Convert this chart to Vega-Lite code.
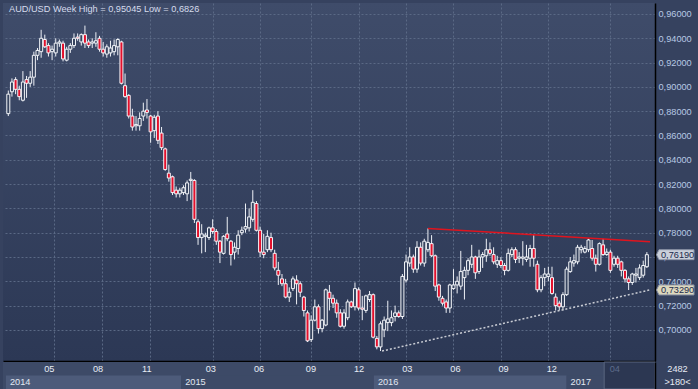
{
"$schema": "https://vega.github.io/schema/vega-lite/v6.json",
"background": "#36425f",
"padding": {"left": 3, "top": 3, "right": 6, "bottom": 0},
"spacing": 0,
"config": {"view": {"stroke": null}, "font": "Liberation Sans", "concat": {"spacing": 0}, "axis": {"labelOverlap": false}},
"datasets": {
"candles": [
{"date":"2014-02-03","o":0.878,"h":0.897,"l":0.876,"c":0.894},
{"date":"2014-02-10","o":0.896,"h":0.907,"l":0.892,"c":0.904},
{"date":"2014-02-17","o":0.906,"h":0.908,"l":0.894,"c":0.898},
{"date":"2014-02-24","o":0.898,"h":0.901,"l":0.889,"c":0.892},
{"date":"2014-03-03","o":0.889,"h":0.913,"l":0.888,"c":0.904},
{"date":"2014-03-10","o":0.906,"h":0.909,"l":0.891,"c":0.903},
{"date":"2014-03-17","o":0.903,"h":0.913,"l":0.900,"c":0.908},
{"date":"2014-03-24","o":0.908,"h":0.929,"l":0.901,"c":0.926},
{"date":"2014-03-31","o":0.926,"h":0.932,"l":0.922,"c":0.930},
{"date":"2014-04-07","o":0.929,"h":0.947,"l":0.924,"c":0.940},
{"date":"2014-04-14","o":0.939,"h":0.943,"l":0.932,"c":0.933},
{"date":"2014-04-21","o":0.934,"h":0.936,"l":0.925,"c":0.928},
{"date":"2014-04-28","o":0.929,"h":0.934,"l":0.922,"c":0.931},
{"date":"2014-05-05","o":0.928,"h":0.940,"l":0.925,"c":0.936},
{"date":"2014-05-12","o":0.936,"h":0.939,"l":0.933,"c":0.937},
{"date":"2014-05-19","o":0.936,"h":0.938,"l":0.921,"c":0.923},
{"date":"2014-05-26","o":0.922,"h":0.933,"l":0.921,"c":0.931},
{"date":"2014-06-02","o":0.931,"h":0.936,"l":0.928,"c":0.934},
{"date":"2014-06-09","o":0.934,"h":0.944,"l":0.932,"c":0.940},
{"date":"2014-06-16","o":0.941,"h":0.944,"l":0.938,"c":0.940},
{"date":"2014-06-23","o":0.937,"h":0.944,"l":0.934,"c":0.943},
{"date":"2014-06-30","o":0.943,"h":0.95045,"l":0.932,"c":0.936},
{"date":"2014-07-07","o":0.937,"h":0.939,"l":0.932,"c":0.934},
{"date":"2014-07-14","o":0.936,"h":0.940,"l":0.932,"c":0.937},
{"date":"2014-07-21","o":0.936,"h":0.945,"l":0.933,"c":0.938},
{"date":"2014-07-28","o":0.940,"h":0.942,"l":0.929,"c":0.931},
{"date":"2014-08-04","o":0.931,"h":0.937,"l":0.925,"c":0.928},
{"date":"2014-08-11","o":0.927,"h":0.935,"l":0.924,"c":0.933},
{"date":"2014-08-18","o":0.928,"h":0.938,"l":0.925,"c":0.932},
{"date":"2014-08-25","o":0.929,"h":0.939,"l":0.926,"c":0.934},
{"date":"2014-09-01","o":0.933,"h":0.940,"l":0.926,"c":0.939},
{"date":"2014-09-08","o":0.937,"h":0.938,"l":0.902,"c":0.903},
{"date":"2014-09-15","o":0.901,"h":0.911,"l":0.891,"c":0.892},
{"date":"2014-09-22","o":0.893,"h":0.894,"l":0.874,"c":0.876},
{"date":"2014-09-29","o":0.876,"h":0.882,"l":0.864,"c":0.867},
{"date":"2014-10-06","o":0.868,"h":0.876,"l":0.864,"c":0.869},
{"date":"2014-10-13","o":0.868,"h":0.879,"l":0.864,"c":0.874},
{"date":"2014-10-20","o":0.876,"h":0.887,"l":0.872,"c":0.880},
{"date":"2014-10-27","o":0.881,"h":0.890,"l":0.874,"c":0.879},
{"date":"2014-11-03","o":0.876,"h":0.877,"l":0.854,"c":0.863},
{"date":"2014-11-10","o":0.864,"h":0.877,"l":0.858,"c":0.875},
{"date":"2014-11-17","o":0.876,"h":0.880,"l":0.853,"c":0.856},
{"date":"2014-11-24","o":0.862,"h":0.867,"l":0.848,"c":0.850},
{"date":"2014-12-01","o":0.849,"h":0.850,"l":0.831,"c":0.832},
{"date":"2014-12-08","o":0.829,"h":0.836,"l":0.822,"c":0.825},
{"date":"2014-12-15","o":0.826,"h":0.827,"l":0.811,"c":0.813},
{"date":"2014-12-22","o":0.815,"h":0.818,"l":0.809,"c":0.812},
{"date":"2014-12-29","o":0.812,"h":0.817,"l":0.809,"c":0.815},
{"date":"2015-01-05","o":0.813,"h":0.819,"l":0.811,"c":0.817},
{"date":"2015-01-12","o":0.812,"h":0.823,"l":0.806,"c":0.821},
{"date":"2015-01-19","o":0.823,"h":0.830,"l":0.807,"c":0.824},
{"date":"2015-01-26","o":0.823,"h":0.824,"l":0.788,"c":0.791},
{"date":"2015-02-02","o":0.789,"h":0.791,"l":0.770,"c":0.776},
{"date":"2015-02-09","o":0.776,"h":0.787,"l":0.763,"c":0.779},
{"date":"2015-02-16","o":0.777,"h":0.780,"l":0.764,"c":0.778},
{"date":"2015-02-23","o":0.776,"h":0.785,"l":0.774,"c":0.784},
{"date":"2015-03-02","o":0.784,"h":0.791,"l":0.779,"c":0.781},
{"date":"2015-03-09","o":0.781,"h":0.783,"l":0.770,"c":0.773},
{"date":"2015-03-16","o":0.773,"h":0.774,"l":0.755,"c":0.764},
{"date":"2015-03-23","o":0.763,"h":0.778,"l":0.762,"c":0.777},
{"date":"2015-03-30","o":0.779,"h":0.793,"l":0.773,"c":0.775},
{"date":"2015-04-06","o":0.773,"h":0.774,"l":0.753,"c":0.762},
{"date":"2015-04-13","o":0.764,"h":0.772,"l":0.758,"c":0.768},
{"date":"2015-04-20","o":0.767,"h":0.782,"l":0.762,"c":0.778},
{"date":"2015-04-27","o":0.780,"h":0.785,"l":0.778,"c":0.782},
{"date":"2015-05-04","o":0.783,"h":0.804,"l":0.780,"c":0.785},
{"date":"2015-05-11","o":0.784,"h":0.800,"l":0.781,"c":0.793},
{"date":"2015-05-18","o":0.791,"h":0.815,"l":0.789,"c":0.805},
{"date":"2015-05-25","o":0.804,"h":0.806,"l":0.781,"c":0.782},
{"date":"2015-06-01","o":0.782,"h":0.785,"l":0.760,"c":0.764},
{"date":"2015-06-08","o":0.764,"h":0.779,"l":0.759,"c":0.762},
{"date":"2015-06-15","o":0.766,"h":0.782,"l":0.764,"c":0.777},
{"date":"2015-06-22","o":0.776,"h":0.780,"l":0.764,"c":0.766},
{"date":"2015-06-29","o":0.763,"h":0.766,"l":0.749,"c":0.751},
{"date":"2015-07-06","o":0.749,"h":0.756,"l":0.737,"c":0.745},
{"date":"2015-07-13","o":0.742,"h":0.746,"l":0.736,"c":0.738},
{"date":"2015-07-20","o":0.738,"h":0.742,"l":0.726,"c":0.727},
{"date":"2015-07-27","o":0.727,"h":0.735,"l":0.723,"c":0.731},
{"date":"2015-08-03","o":0.734,"h":0.744,"l":0.732,"c":0.742},
{"date":"2015-08-10","o":0.741,"h":0.745,"l":0.721,"c":0.738},
{"date":"2015-08-17","o":0.738,"h":0.740,"l":0.727,"c":0.731},
{"date":"2015-08-24","o":0.727,"h":0.728,"l":0.711,"c":0.716},
{"date":"2015-08-31","o":0.714,"h":0.716,"l":0.690,"c":0.691},
{"date":"2015-09-07","o":0.692,"h":0.712,"l":0.690,"c":0.708},
{"date":"2015-09-14","o":0.708,"h":0.725,"l":0.707,"c":0.719},
{"date":"2015-09-21","o":0.719,"h":0.721,"l":0.697,"c":0.701},
{"date":"2015-09-28","o":0.701,"h":0.709,"l":0.698,"c":0.708},
{"date":"2015-10-05","o":0.704,"h":0.734,"l":0.703,"c":0.733},
{"date":"2015-10-12","o":0.731,"h":0.737,"l":0.716,"c":0.726},
{"date":"2015-10-19","o":0.726,"h":0.729,"l":0.718,"c":0.722},
{"date":"2015-10-26","o":0.722,"h":0.725,"l":0.710,"c":0.714},
{"date":"2015-11-02","o":0.714,"h":0.717,"l":0.702,"c":0.703},
{"date":"2015-11-09","o":0.703,"h":0.717,"l":0.701,"c":0.714},
{"date":"2015-11-16","o":0.710,"h":0.725,"l":0.708,"c":0.723},
{"date":"2015-11-23","o":0.723,"h":0.724,"l":0.718,"c":0.719},
{"date":"2015-11-30","o":0.719,"h":0.739,"l":0.716,"c":0.734},
{"date":"2015-12-07","o":0.733,"h":0.735,"l":0.716,"c":0.718},
{"date":"2015-12-14","o":0.718,"h":0.728,"l":0.708,"c":0.717},
{"date":"2015-12-21","o":0.716,"h":0.729,"l":0.714,"c":0.728},
{"date":"2015-12-28","o":0.725,"h":0.732,"l":0.723,"c":0.729},
{"date":"2016-01-04","o":0.729,"h":0.730,"l":0.693,"c":0.694},
{"date":"2016-01-11","o":0.693,"h":0.695,"l":0.684,"c":0.686},
{"date":"2016-01-18","o":0.686,"h":0.707,"l":0.6826,"c":0.705},
{"date":"2016-01-25","o":0.700,"h":0.711,"l":0.694,"c":0.708},
{"date":"2016-02-01","o":0.706,"h":0.724,"l":0.699,"c":0.709},
{"date":"2016-02-08","o":0.706,"h":0.716,"l":0.703,"c":0.710},
{"date":"2016-02-15","o":0.711,"h":0.720,"l":0.707,"c":0.714},
{"date":"2016-02-22","o":0.714,"h":0.716,"l":0.710,"c":0.711},
{"date":"2016-02-29","o":0.711,"h":0.746,"l":0.709,"c":0.744},
{"date":"2016-03-07","o":0.741,"h":0.762,"l":0.739,"c":0.756},
{"date":"2016-03-14","o":0.755,"h":0.768,"l":0.752,"c":0.760},
{"date":"2016-03-21","o":0.760,"h":0.762,"l":0.747,"c":0.750},
{"date":"2016-03-28","o":0.750,"h":0.773,"l":0.747,"c":0.768},
{"date":"2016-04-04","o":0.768,"h":0.772,"l":0.753,"c":0.755},
{"date":"2016-04-11","o":0.755,"h":0.775,"l":0.752,"c":0.773},
{"date":"2016-04-18","o":0.766,"h":0.7835,"l":0.764,"c":0.772},
{"date":"2016-04-25","o":0.771,"h":0.778,"l":0.760,"c":0.761},
{"date":"2016-05-02","o":0.761,"h":0.762,"l":0.732,"c":0.736},
{"date":"2016-05-09","o":0.737,"h":0.738,"l":0.724,"c":0.727},
{"date":"2016-05-16","o":0.726,"h":0.728,"l":0.720,"c":0.722},
{"date":"2016-05-23","o":0.723,"h":0.725,"l":0.714,"c":0.718},
{"date":"2016-05-30","o":0.718,"h":0.738,"l":0.714,"c":0.737},
{"date":"2016-06-06","o":0.734,"h":0.750,"l":0.733,"c":0.737},
{"date":"2016-06-13","o":0.737,"h":0.744,"l":0.730,"c":0.740},
{"date":"2016-06-20","o":0.736,"h":0.765,"l":0.733,"c":0.748},
{"date":"2016-06-27","o":0.743,"h":0.752,"l":0.725,"c":0.749},
{"date":"2016-07-04","o":0.749,"h":0.759,"l":0.745,"c":0.757},
{"date":"2016-07-11","o":0.754,"h":0.770,"l":0.751,"c":0.760},
{"date":"2016-07-18","o":0.760,"h":0.761,"l":0.742,"c":0.747},
{"date":"2016-07-25","o":0.748,"h":0.766,"l":0.746,"c":0.760},
{"date":"2016-08-01","o":0.760,"h":0.764,"l":0.751,"c":0.762},
{"date":"2016-08-08","o":0.761,"h":0.775,"l":0.756,"c":0.766},
{"date":"2016-08-15","o":0.766,"h":0.772,"l":0.761,"c":0.763},
{"date":"2016-08-22","o":0.762,"h":0.768,"l":0.754,"c":0.756},
{"date":"2016-08-29","o":0.754,"h":0.761,"l":0.751,"c":0.757},
{"date":"2016-09-05","o":0.757,"h":0.760,"l":0.751,"c":0.753},
{"date":"2016-09-12","o":0.753,"h":0.755,"l":0.745,"c":0.749},
{"date":"2016-09-19","o":0.749,"h":0.767,"l":0.748,"c":0.763},
{"date":"2016-09-26","o":0.762,"h":0.768,"l":0.760,"c":0.766},
{"date":"2016-10-03","o":0.766,"h":0.768,"l":0.755,"c":0.758},
{"date":"2016-10-10","o":0.759,"h":0.764,"l":0.755,"c":0.760},
{"date":"2016-10-17","o":0.759,"h":0.773,"l":0.753,"c":0.760},
{"date":"2016-10-24","o":0.758,"h":0.770,"l":0.756,"c":0.760},
{"date":"2016-10-31","o":0.759,"h":0.770,"l":0.752,"c":0.767},
{"date":"2016-11-07","o":0.767,"h":0.778,"l":0.752,"c":0.759},
{"date":"2016-11-14","o":0.754,"h":0.757,"l":0.731,"c":0.733},
{"date":"2016-11-21","o":0.733,"h":0.745,"l":0.731,"c":0.743},
{"date":"2016-11-28","o":0.743,"h":0.751,"l":0.736,"c":0.746},
{"date":"2016-12-05","o":0.744,"h":0.752,"l":0.740,"c":0.746},
{"date":"2016-12-12","o":0.743,"h":0.752,"l":0.729,"c":0.730},
{"date":"2016-12-19","o":0.727,"h":0.730,"l":0.716,"c":0.720},
{"date":"2016-12-26","o":0.722,"h":0.724,"l":0.716,"c":0.719},
{"date":"2017-01-02","o":0.719,"h":0.731,"l":0.716,"c":0.729},
{"date":"2017-01-09","o":0.729,"h":0.752,"l":0.728,"c":0.750},
{"date":"2017-01-16","o":0.748,"h":0.760,"l":0.747,"c":0.756},
{"date":"2017-01-23","o":0.755,"h":0.762,"l":0.752,"c":0.757},
{"date":"2017-01-30","o":0.756,"h":0.770,"l":0.754,"c":0.768},
{"date":"2017-02-06","o":0.766,"h":0.770,"l":0.763,"c":0.768},
{"date":"2017-02-13","o":0.764,"h":0.769,"l":0.763,"c":0.767},
{"date":"2017-02-20","o":0.766,"h":0.775,"l":0.764,"c":0.774},
{"date":"2017-02-27","o":0.767,"h":0.774,"l":0.757,"c":0.759},
{"date":"2017-03-06","o":0.759,"h":0.762,"l":0.748,"c":0.754},
{"date":"2017-03-13","o":0.754,"h":0.772,"l":0.753,"c":0.771},
{"date":"2017-03-20","o":0.770,"h":0.775,"l":0.761,"c":0.762},
{"date":"2017-03-27","o":0.762,"h":0.767,"l":0.761,"c":0.764},
{"date":"2017-04-03","o":0.764,"h":0.766,"l":0.747,"c":0.749},
{"date":"2017-04-10","o":0.754,"h":0.761,"l":0.752,"c":0.759},
{"date":"2017-04-17","o":0.759,"h":0.761,"l":0.751,"c":0.754},
{"date":"2017-04-24","o":0.756,"h":0.757,"l":0.744,"c":0.749},
{"date":"2017-05-01","o":0.749,"h":0.750,"l":0.739,"c":0.742},
{"date":"2017-05-08","o":0.742,"h":0.744,"l":0.7328,"c":0.739},
{"date":"2017-05-15","o":0.739,"h":0.747,"l":0.737,"c":0.746},
{"date":"2017-05-22","o":0.745,"h":0.751,"l":0.739,"c":0.746},
{"date":"2017-05-29","o":0.743,"h":0.754,"l":0.741,"c":0.751},
{"date":"2017-06-05","o":0.745,"h":0.757,"l":0.743,"c":0.753},
{"date":"2017-06-12","o":0.752,"h":0.764,"l":0.751,"c":0.7619}
],
"resistance": [{"date":"2016-04-18","v":0.7835},{"date":"2017-06-18","v":0.7726}],
"support": [{"date":"2016-01-21","v":0.6826},{"date":"2017-06-18","v":0.7329}],
"tags": [{"v":0.7619,"label":"0,76190","kind":"close"},{"v":0.7329,"label":"0,73290","kind":"trend"}],
"heading": [{"text":"AUD/USD Week High = 0,95045 Low = 0,6826"}],
"months": [
{"date":"2014-05-01","label":"05","shaded":false},
{"date":"2014-08-01","label":"08","shaded":false},
{"date":"2014-11-01","label":"11","shaded":false},
{"date":"2015-03-02","label":"03","shaded":false},
{"date":"2015-06-01","label":"06","shaded":false},
{"date":"2015-09-07","label":"09","shaded":false},
{"date":"2015-12-07","label":"12","shaded":false},
{"date":"2016-03-07","label":"03","shaded":false},
{"date":"2016-06-06","label":"06","shaded":false},
{"date":"2016-09-05","label":"09","shaded":false},
{"date":"2016-12-05","label":"12","shaded":false},
{"date":"2017-04-03","label":"04","shaded":true}
],
"years": [
{"start":"2014-02-08","end":"2015-01-05","label":"2014","alt":true},
{"start":"2015-01-05","end":"2016-01-04","label":"2015","alt":false},
{"start":"2016-01-04","end":"2017-01-02","label":"2016","alt":true},
{"start":"2017-01-02","end":"2017-03-14","label":"2017","alt":false}
],
"zone": [{"start":"2017-03-14","end":"2017-06-18"}]
},
"vconcat": [
{
"width": 652,
"height": 358,
"view": {"fill": {"gradient": "linear", "x1": 0, "y1": 0, "x2": 0, "y2": 1, "stops": [{"offset": 0, "color": "#3f4c6a"}, {"offset": 1, "color": "#2c3855"}]}},
"layer": [
{"data": {"name": "candles"}, "mark": {"type": "rule", "color": "#eef1f7", "strokeWidth": 1, "clip": true},
"encoding": {
"x": {"field": "date", "type": "temporal", "scale": {"domain": [{"year": 2014, "month": 2, "date": 2, "hours": 10}, {"year": 2017, "month": 6, "date": 18}]},
"axis": {"values": [{"year":2014,"month":5,"date":1},{"year":2014,"month":8,"date":1},{"year":2014,"month":11,"date":1},{"year":2015,"month":3,"date":2},{"year":2015,"month":6,"date":1},{"year":2015,"month":9,"date":7},{"year":2015,"month":12,"date":7},{"year":2016,"month":3,"date":7},{"year":2016,"month":6,"date":6},{"year":2016,"month":9,"date":5},{"year":2016,"month":12,"date":5},{"year":2017,"month":4,"date":3}],
"tickCount": 30, "grid": true, "gridColor": "#5a6985", "gridDash": [2, 2], "labels": false, "ticks": false, "domain": true, "domainColor": "#000000", "domainWidth": 1.5, "title": null}},
"y": {"field": "l", "type": "quantitative", "scale": {"domain": [0.6744, 0.96905], "nice": false, "zero": false},
"axis": {"orient": "right", "values": [0.70, 0.72, 0.74, 0.76, 0.78, 0.80, 0.82, 0.84, 0.86, 0.88, 0.90, 0.92, 0.94, 0.96], "tickCount": 30, "labelExpr": "replace(format(datum.value, '.5f'), '.', ',')", "ticks": false, "labelPadding": 3, "labelFontSize": 9.2, "labelFont": "Liberation Sans", "labelColor": "#b7c9e4", "labelOverlap": false, "labelBaseline": "middle", "domain": true, "domainColor": "#000000", "domainWidth": 1.5, "grid": true, "gridColor": "#5a6985", "gridDash": [2, 2], "title": null}},
"y2": {"field": "h"}
}},
{"data": {"name": "candles"}, "mark": {"type": "bar", "size": 3, "stroke": "#f2f4f8", "strokeWidth": 1, "clip": true},
"encoding": {
"x": {"field": "date", "type": "temporal"},
"y": {"field": "o", "type": "quantitative"},
"y2": {"field": "c"},
"fill": {"condition": {"test": "datum.c < datum.o", "value": "#e3102c"}, "value": "#37445f"}
}},
{"data": {"name": "resistance"}, "mark": {"type": "line", "color": "#e0141e", "strokeWidth": 1.5, "clip": true},
"encoding": {"x": {"field": "date", "type": "temporal"}, "y": {"field": "v", "type": "quantitative"}}},
{"data": {"name": "support"}, "mark": {"type": "line", "color": "#c9ccd4", "strokeWidth": 1.5, "strokeDash": [2, 2], "clip": true},
"encoding": {"x": {"field": "date", "type": "temporal"}, "y": {"field": "v", "type": "quantitative"}}},
{"data": {"name": "tags"}, "mark": {"type": "point", "shape": "M0.15,0L0.4,-0.5H3.9V0.5H0.4Z", "size": 400, "filled": true, "opacity": 1, "stroke": "#8b93a5", "strokeWidth": 1},
"encoding": {"x": {"value": "width"}, "y": {"field": "v", "type": "quantitative"},
"fill": {"condition": {"test": "datum.kind == 'trend'", "value": "#dcd8bd"}, "value": "#c9cfda"}}},
{"data": {"name": "tags"}, "mark": {"type": "text", "align": "left", "baseline": "middle", "dx": 6, "fontSize": 9.2, "font": "Liberation Sans", "color": "#1c2a4c"},
"encoding": {"x": {"value": "width"}, "y": {"field": "v", "type": "quantitative"}, "text": {"field": "label"}}},
{"data": {"name": "heading"}, "mark": {"type": "text", "align": "left", "baseline": "alphabetic", "dx": 1, "dy": 8.5, "fontSize": 9.2, "font": "Liberation Sans", "color": "#d6dced"},
"encoding": {"x": {"datum": {"year": 2014, "month": 2, "date": 2, "hours": 10}, "type": "temporal"}, "y": {"datum": 0.96905, "type": "quantitative"}, "text": {"field": "text"}}}
]
},
{
"width": 652,
"height": 27,
"view": {"fill": "#3d4a67"},
"layer": [
{"data": {"name": "years"}, "mark": {"type": "rect"},
"encoding": {
"x": {"field": "start", "type": "temporal", "scale": {"domain": [{"year": 2014, "month": 2, "date": 2, "hours": 10}, {"year": 2017, "month": 6, "date": 18}]}, "axis": null},
"x2": {"field": "end"},
"y": {"datum": "year", "type": "nominal", "scale": {"domain": ["month", "year"], "type": "band", "paddingInner": 0, "paddingOuter": 0},
"axis": {"orient": "right", "title": null, "ticks": false, "labelExpr": "datum.value == 'month' ? '2482' : '>180<'", "labelAlign": "center", "labelBaseline": "middle", "labelPadding": 22, "labelFontSize": 9.2, "labelFont": "Liberation Sans", "labelColor": "#e6ebf4", "domain": true, "domainColor": "#000000", "domainWidth": 1.5, "grid": false}},
"fill": {"condition": {"test": "datum.alt", "value": "#4d5b7a"}, "value": "#3d4a67"}
}},
{"data": {"name": "zone"}, "mark": {"type": "rect", "color": "#2c3752", "stroke": "#5a6680", "strokeWidth": 1},
"encoding": {"x": {"field": "start", "type": "temporal"}, "x2": {"field": "end"}}},
{"data": {"name": "months"}, "mark": {"type": "text", "fontSize": 9.2, "font": "Liberation Sans", "baseline": "middle"},
"encoding": {"x": {"field": "date", "type": "temporal"}, "y": {"datum": "month", "type": "nominal"}, "text": {"field": "label"},
"color": {"condition": {"test": "datum.shaded", "value": "#5d6c8b"}, "value": "#e8edf6"}}},
{"data": {"name": "years"}, "mark": {"type": "text", "align": "left", "dx": 4, "fontSize": 9.2, "font": "Liberation Sans", "baseline": "middle", "color": "#e2e8f2"},
"encoding": {"x": {"field": "start", "type": "temporal"}, "y": {"datum": "year", "type": "nominal"}, "text": {"field": "label"}}}
]
}
]
}
